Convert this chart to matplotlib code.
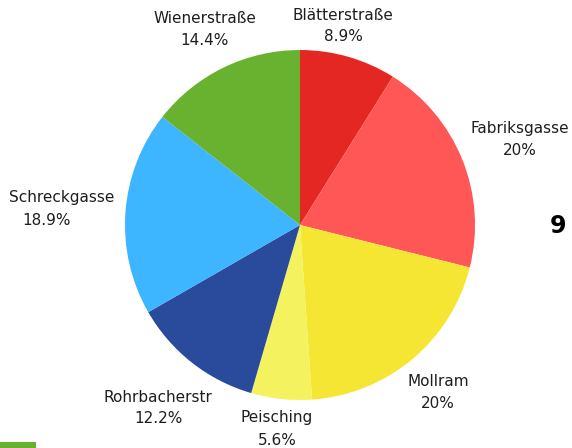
import matplotlib
matplotlib.use("Agg")
import matplotlib.pyplot as plt
from matplotlib.patches import Rectangle

# street names and their shares, clockwise from 12 o'clock
streets = ["Blätterstraße", "Fabriksgasse", "Mollram", "Peisching",
           "Rohrbacherstr", "Schreckgasse", "Wienerstraße"]
shares = [8.9, 20, 20, 5.6, 12.2, 18.9, 14.4]
share_labels = ["8.9%", "20%", "20%", "5.6%", "12.2%", "18.9%", "14.4%"]
colors = ["#E52724", "#FF5656", "#F5E633", "#F5F260",
          "#2A4A9C", "#3DB5FF", "#69B22F"]

W, H = 572, 448
fig = plt.figure(figsize=(W / 100, H / 100), dpi=100)
ax = fig.add_axes([0, 0, 1, 1])

cx, cy, r = 300, H - 225, 175
ax.pie(shares, colors=colors, startangle=90, counterclock=False,
       center=(cx, cy), radius=r, frame=True,
       wedgeprops=dict(linewidth=0))
ax.set_xlim(0, W)
ax.set_ylim(0, H)
ax.set_aspect("equal")
ax.axis("off")

# label anchor points (name line, percent line) in pixels from top-left
label_pos = [
    ((343, 15), (343, 36)),
    ((520, 128), (520, 150)),
    ((438, 382), (438, 403)),
    ((277, 417), (277, 440)),
    ((158, 397), (158, 418)),
    ((62, 197), (47, 220)),
    ((205, 18), (205, 40)),
]
txt = dict(ha="center", va="center", fontsize=11, color="#1e1e1e",
           family="DejaVu Sans")
for name, pct, (p1, p2) in zip(streets, share_labels, label_pos):
    ax.text(p1[0], H - p1[1], name, **txt)
    ax.text(p2[0], H - p2[1], pct, **txt)

# partly visible heading at the right edge
ax.text(550, H - 226, "9", ha="left", va="center", fontsize=17,
        fontweight="bold", color="black")

# strip of a legend swatch at the bottom
ax.add_patch(Rectangle((0, 0), 36, 6, color="#69B22F", lw=0))

fig.savefig("out.png", dpi=100)
